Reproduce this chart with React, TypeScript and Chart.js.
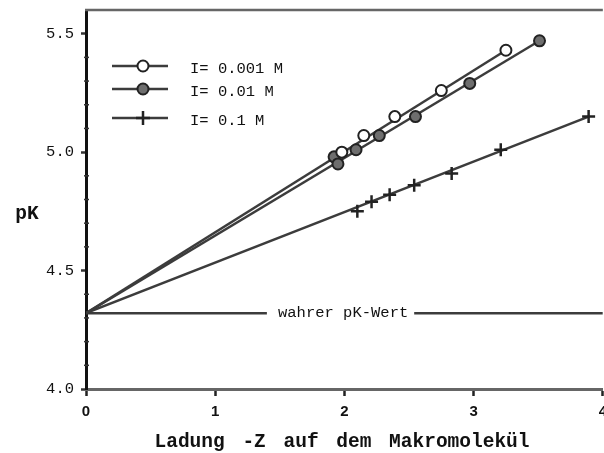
import React, { useEffect, useRef } from 'react';
import { Chart, registerables } from 'chart.js';

Chart.register(...registerables);

// ---- data ----
const xOpen = [1.98, 2.15, 2.39, 2.75, 3.25];
const yOpen = [5.0, 5.07, 5.15, 5.26, 5.43];
const xFilled = [1.92, 1.95, 2.09, 2.27, 2.55, 2.97, 3.51];
const yFilled = [4.98, 4.95, 5.01, 5.07, 5.15, 5.29, 5.47];
const xPlus = [2.1, 2.21, 2.35, 2.54, 2.83, 3.21, 3.89];
const yPlus = [4.75, 4.79, 4.82, 4.86, 4.91, 5.01, 5.15];

const fitXOpen = [0, 3.25];
const fitYOpen = [4.32, 5.43];
const fitXFilled = [0, 3.51];
const fitYFilled = [4.32, 5.47];
const fitXPlus = [0, 3.89];
const fitYPlus = [4.32, 5.15];

const truePK = 4.32;
const trueLeftX = [0, 1.4];
const trueRightX = [2.54, 4.0];
const trueLabel = 'wahrer pK-Wert';
const trueLabelX = 1.99;

const seriesLabels = ['I= 0.001 M', 'I= 0.01 M', 'I= 0.1 M'];
const xTitle = 'Ladung -Z auf dem Makromolekül';
const yTitle = 'pK';
const xMin = 0, xMax = 4, yMin = 4.0, yMax = 5.6;

const zip = (xs: number[], ys: number[]) => xs.map((x, i) => ({ x, y: ys[i] }));

const LINE = '#3c3c3c';
const EDGE = '#222';
const FILL = '#6e6e6e';
const MONO = '"Liberation Mono", "DejaVu Sans Mono", monospace';
const SANS = '"Liberation Sans", Arial, sans-serif';

function drawMarker(ctx: CanvasRenderingContext2D, kind: number, x: number, y: number) {
  ctx.save();
  ctx.strokeStyle = EDGE;
  if (kind === 2) {
    ctx.lineWidth = 2.5;
    ctx.beginPath();
    ctx.moveTo(x - 7, y); ctx.lineTo(x + 7, y);
    ctx.moveTo(x, y - 7); ctx.lineTo(x, y + 7);
    ctx.stroke();
  } else {
    ctx.lineWidth = 2;
    ctx.fillStyle = kind === 0 ? '#fff' : FILL;
    ctx.beginPath();
    ctx.arc(x, y, 5.5, 0, Math.PI * 2);
    ctx.fill();
    ctx.stroke();
  }
  ctx.restore();
}

const decor = {
  id: 'decor',
  afterDraw(chart: any) {
    const { ctx, chartArea: a } = chart;
    const xs = chart.scales.x;
    const ys = chart.scales.y;
    ctx.save();
    // top border
    ctx.strokeStyle = '#666';
    ctx.lineWidth = 2.5;
    ctx.beginPath();
    ctx.moveTo(a.left - 1, a.top);
    ctx.lineTo(a.right, a.top);
    ctx.stroke();
    // minor y ticks
    ctx.strokeStyle = '#333';
    ctx.lineWidth = 1.5;
    for (let i = 1; i < 16; i++) {
      if (i % 5 === 0) continue;
      const py = ys.getPixelForValue(yMin + i * 0.1);
      ctx.beginPath();
      ctx.moveTo(a.left - 2, py);
      ctx.lineTo(a.left + 3, py);
      ctx.stroke();
    }
    // true pK label
    ctx.fillStyle = '#111';
    ctx.font = `15.5px ${MONO}`;
    ctx.textAlign = 'center';
    ctx.textBaseline = 'middle';
    ctx.fillText(trueLabel, xs.getPixelForValue(trueLabelX), ys.getPixelForValue(truePK));
    // legend
    const lys = [56, 79, 108];
    const tys = [59, 82, 111];
    for (let i = 0; i < 3; i++) {
      const ly = a.top + lys[i];
      ctx.strokeStyle = LINE;
      ctx.lineWidth = 2.5;
      ctx.beginPath();
      ctx.moveTo(a.left + 26, ly);
      ctx.lineTo(a.left + 82, ly);
      ctx.stroke();
      drawMarker(ctx, i, a.left + 57, ly);
      ctx.fillStyle = '#111';
      ctx.font = `15.5px ${MONO}`;
      ctx.textAlign = 'left';
      ctx.textBaseline = 'middle';
      ctx.fillText(seriesLabels[i], a.left + 104, a.top + tys[i]);
    }
    // axis titles
    ctx.font = `bold 19.5px ${MONO}`;
    ctx.textAlign = 'center';
    ctx.textBaseline = 'middle';
    ctx.fillStyle = '#111';
    (ctx as any).wordSpacing = '6px';
    ctx.fillText(xTitle, 342, a.bottom + 53);
    (ctx as any).wordSpacing = '0px';
    ctx.fillText(yTitle, 27, ys.getPixelForValue(4.74));
    ctx.restore();
  },
};

export default function App() {
  const ref = useRef<HTMLCanvasElement | null>(null);
  useEffect(() => {
    document.body.style.margin = '0';
    document.body.style.overflow = 'hidden';
    if (!ref.current) return;
    const lineDs = (data: any[], order = 2) => ({
      type: 'line' as const,
      data,
      showLine: true,
      borderColor: LINE,
      borderWidth: 2.5,
      pointRadius: 0,
      pointHoverRadius: 0,
      order,
    });
    const chart = new Chart(ref.current, {
      type: 'scatter',
      data: {
        datasets: [
          {
            label: seriesLabels[0],
            data: zip(xOpen, yOpen),
            pointStyle: 'circle',
            pointRadius: 5.5,
            pointBorderWidth: 2,
            borderColor: EDGE,
            backgroundColor: '#fff',
            order: 0,
          } as any,
          {
            label: seriesLabels[1],
            data: zip(xFilled, yFilled),
            pointStyle: 'circle',
            pointRadius: 5.5,
            pointBorderWidth: 2,
            borderColor: EDGE,
            backgroundColor: FILL,
            order: 0,
          },
          {
            label: seriesLabels[2],
            data: zip(xPlus, yPlus),
            pointStyle: 'cross',
            pointRadius: 6.5,
            pointBorderWidth: 2.5,
            borderColor: EDGE,
            backgroundColor: EDGE,
            order: 0,
          },
          lineDs(zip(fitXOpen, fitYOpen)),
          lineDs(zip(fitXFilled, fitYFilled)),
          lineDs(zip(fitXPlus, fitYPlus)),
          lineDs(zip(trueLeftX, trueLeftX.map(() => truePK))),
          lineDs(zip(trueRightX, trueRightX.map(() => truePK))),
        ] as any,
      },
      options: {
        animation: false,
        responsive: true,
        maintainAspectRatio: false,
        layout: { padding: { top: 10, left: 0, right: 0, bottom: 0 } },
        plugins: {
          legend: { display: false },
          tooltip: { enabled: false },
        },
        scales: {
          x: {
            type: 'linear',
            min: xMin,
            max: xMax,
            ticks: {
              stepSize: 1,
              autoSkip: false,
              maxRotation: 0,
              padding: 7,
              color: '#111',
              font: { family: SANS, size: 15, weight: 'bold' },
              callback: (v: any) => String(v),
            },
            grid: {
              drawOnChartArea: false,
              drawTicks: true,
              tickLength: 7,
              tickWidth: 2.5,
              tickColor: '#222',
            },
            border: { color: '#666', width: 3 },
            afterFit: (s: any) => {
              s.height = 64;
            },
          },
          y: {
            type: 'linear',
            min: yMin,
            max: yMax,
            ticks: {
              stepSize: 0.1,
              autoSkip: false,
              padding: 7,
              color: '#111',
              font: { family: MONO, size: 15.5 },
              callback: (v: any) => {
                const r = Math.round(Number(v) * 10);
                return r % 5 === 0 ? (r / 10).toFixed(1) : '';
              },
            },
            grid: {
              drawOnChartArea: false,
              drawTicks: true,
              tickLength: 5,
              tickWidth: 2.5,
              tickColor: (c: any) =>
                Math.round(c.tick.value * 10) % 5 === 0 ? '#333' : 'rgba(0,0,0,0)',
            },
            border: { color: '#111', width: 3 },
            afterFit: (s: any) => {
              s.width = 86;
              s.paddingTop = 0;
              s.paddingBottom = 0;
            },
          },
        },
      } as any,
      plugins: [decor],
    });
    return () => chart.destroy();
  }, []);
  return (
    <div style={{ width: 604, height: 453, overflow: 'hidden' }}>
      <div style={{ width: 614, height: 453, position: 'relative' }}>
        <canvas ref={ref} />
      </div>
    </div>
  );
}
